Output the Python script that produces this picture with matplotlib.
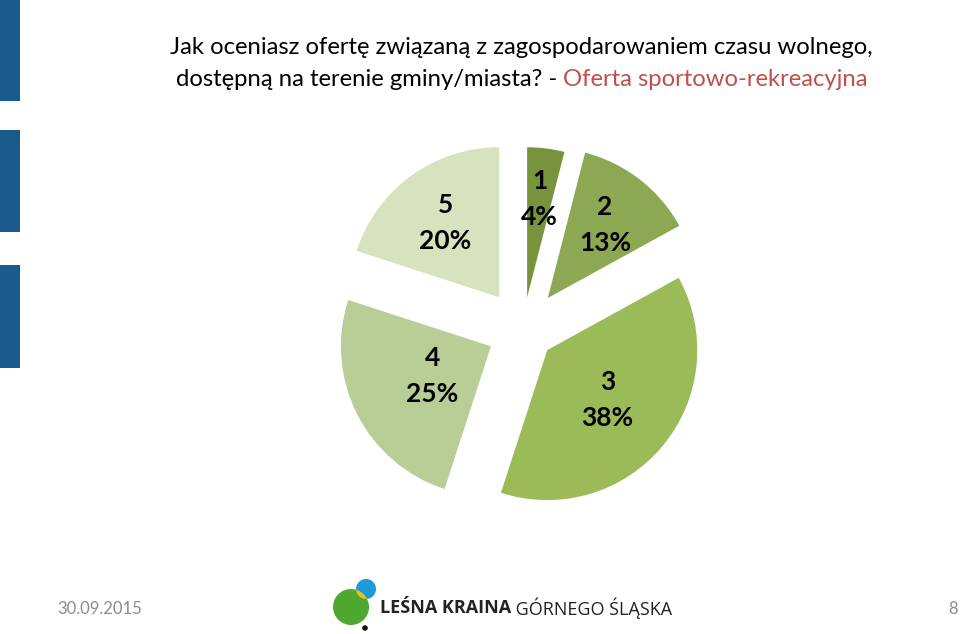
import numpy as np
import matplotlib

matplotlib.use("Agg")
import matplotlib.pyplot as plt
from matplotlib.patches import Circle, Rectangle

W, H = 960, 634

TITLE_LINE1 = "Jak oceniasz ofertę związaną z zagospodarowaniem czasu wolnego,"
TITLE_LINE2_BLACK = "dostępną na terenie gminy/miasta? - "
TITLE_LINE2_RED = "Oferta sportowo-rekreacyjna"

categories = ["1", "2", "3", "4", "5"]
shares = [4, 13, 38, 25, 20]
colors = ["#77933C", "#8CA852", "#9BBB59", "#B9CD96", "#D7E3BF"]
explode = [0.22, 0.27, 0.21, 0.24, 0.27]
label_dist = [0.66, 0.62, 0.52, 0.44, 0.61]

FOOTER_DATE = "30.09.2015"
PAGE_NO = "8"
LOGO_BOLD = "LEŚNA KRAINA"
LOGO_REGULAR = " GÓRNEGO ŚLĄSKA"

plt.rcParams["font.family"] = ["Lato", "DejaVu Sans"]

fig = plt.figure(figsize=(W / 100, H / 100), dpi=100)
fig.patch.set_facecolor("white")

# background layer in pixel coordinates
bg = fig.add_axes([0, 0, 1, 1])
bg.set_xlim(0, W)
bg.set_ylim(H, 0)
bg.axis("off")

for y0, y1 in [(0, 101), (130, 232), (265, 368)]:
    bg.add_patch(Rectangle((0, y0), 20, y1 - y0, color="#1A5A8C", lw=0))

# title
bg.text(521, 47, TITLE_LINE1, ha="center", va="center", fontsize=17.2, color="black")
renderer = fig.canvas.get_renderer()
t_black = bg.text(0, 80, TITLE_LINE2_BLACK, ha="left", va="center", fontsize=17.2, color="black")
t_red = bg.text(0, 80, TITLE_LINE2_RED, ha="left", va="center", fontsize=17.2, color="#C0504D")
wb = t_black.get_window_extent(renderer).width
wr = t_red.get_window_extent(renderer).width
x_start = 522 - (wb + wr) / 2
t_black.set_x(x_start)
t_red.set_x(x_start + wb)

# footer
bg.text(100, 609, FOOTER_DATE, ha="center", va="center", fontsize=12, color="#8C8C8C")
bg.text(953, 609, PAGE_NO, ha="center", va="center", fontsize=12, color="#8C8C8C")

green = Circle((351, 607), 18, color="#4EA72E", lw=0)
bg.add_patch(green)
bg.add_patch(Circle((366, 589), 10, color="#1E9AD6", lw=0))
overlap = Circle((366, 589), 10, color="#E8C21A", lw=0)
bg.add_patch(overlap)
overlap.set_clip_path(green)
bg.add_patch(Circle((365, 628), 2.8, color="#111111", lw=0))

lb = bg.text(380, 608, LOGO_BOLD, ha="left", va="center", fontsize=13,
              fontweight="bold", color="#222222", family=["Open Sans", "DejaVu Sans"])
wl = lb.get_window_extent(renderer).width
bg.text(380 + wl, 608, LOGO_REGULAR, ha="left", va="center", fontsize=13,
        color="#222222", family=["Open Sans", "DejaVu Sans"])

# pie: centre (523, 330) px, radius 150 px
R = 150
cx, cy = 523, 330
half = 2 * R
ax = fig.add_axes([(cx - half) / W, (H - cy - half) / H, 2 * half / W, 2 * half / H])
wedges, _ = ax.pie(
    shares,
    colors=colors,
    explode=explode,
    startangle=90,
    counterclock=False,
    wedgeprops=dict(linewidth=0),
)
for w, cat, s, d in zip(wedges, categories, shares, label_dist):
    ang = np.deg2rad((w.theta1 + w.theta2) / 2)
    x0, y0 = w.center
    ax.text(x0 + d * np.cos(ang), y0 + d * np.sin(ang), f"{cat}\n{s}%",
            ha="center", va="center", fontsize=19, fontweight="bold",
            color="black", linespacing=1.6)
ax.set_xlim(-2, 2)
ax.set_ylim(-2, 2)
ax.axis("off")

fig.savefig("out.png", dpi=100)
